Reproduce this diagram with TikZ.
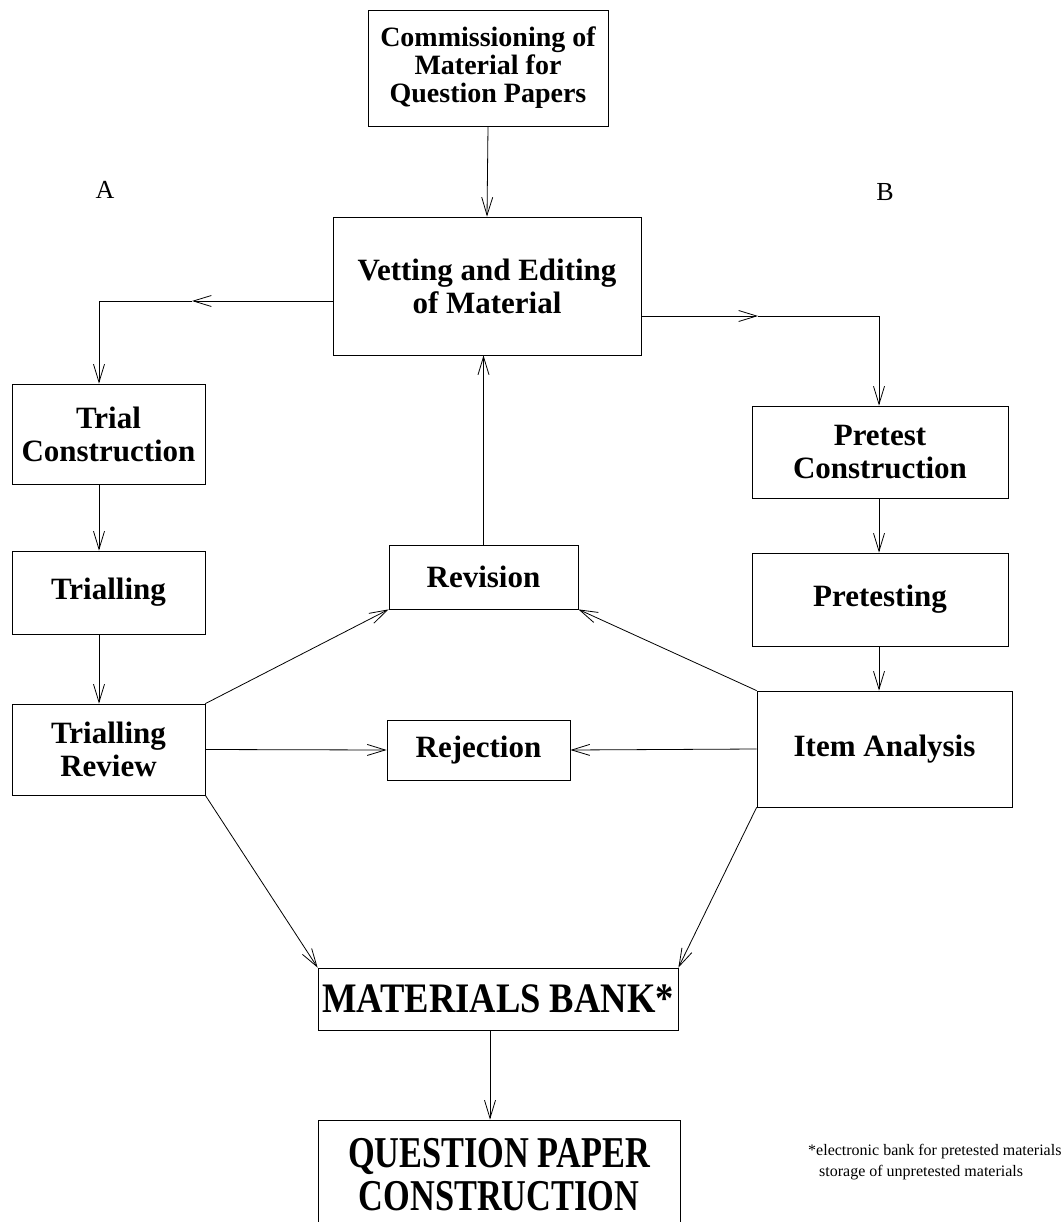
\documentclass[tikz,border=0pt]{standalone}
\usepackage{fontspec}
\setmainfont{Liberation Serif}
\newfontfamily\mbfont[FakeStretch=0.87]{Liberation Serif}
\newfontfamily\qpfont[FakeStretch=0.78]{Liberation Serif}
\usetikzlibrary{arrows.meta}
\begin{document}
\begin{tikzpicture}[x=1pt,y=-1pt,
  box/.style={draw, line width=0.8pt, inner sep=0pt, align=center,
    font=\fontsize{31}{33}\selectfont\bfseries},
  arr/.style={line width=0.8pt, -{Straight Barb[length=18pt,width=11pt,line width=0.8pt]}},
  lab/.style={font=\fontsize{26}{28}\selectfont},
  note/.style={font=\fontsize{16}{21}\selectfont, align=left, inner sep=0pt}]
\useasboundingbox (0,0) rectangle (1064,1222);

\node[box, minimum width=240, minimum height=116, font=\fontsize{28}{28}\selectfont\bfseries] (comm) at (488,68) {Commissioning of\\Material for\\Question Papers};
\node[box, minimum width=308, minimum height=138] (vet) at (487,286) {Vetting and Editing\\of Material};
\node[lab] (la) at (105,190) {A};
\node[lab] (lb) at (885,192) {B};

\node[box, minimum width=193, minimum height=100] (tc) at (108.5,434) {Trial\\Construction};
\node[box, minimum width=193, minimum height=83] (tr) at (108.5,592.5) {Trialling};
\node[box, minimum width=193, minimum height=91] (trr) at (108.5,749.5) {Trialling\\Review};

\node[box, minimum width=189, minimum height=64] (rev) at (483.5,577) {Revision};
\node[box, minimum width=183, minimum height=60] (rej) at (478.5,750) {Rejection};

\node[box, minimum width=256, minimum height=92] (pc) at (880,452) {Pretest\\Construction};
\node[box, minimum width=256, minimum height=93] (pt) at (880,599.5) {Pretesting};
\node[box, minimum width=255, minimum height=116] (ia) at (884.5,749) {Item Analysis};

\node[box, minimum width=360, minimum height=62, font=\fontsize{42}{42}\mbfont\bfseries] (mb) at (498,999) {MATERIALS BANK*};
\node[box, minimum width=362, minimum height=110, font=\fontsize{44}{43}\qpfont\bfseries] (qp) at (499,1175) {QUESTION PAPER\\CONSTRUCTION};

\node[note, anchor=north west] (fn) at (808,1144) {*electronic bank for pretested materials\\\hspace*{11pt}storage of unpretested materials};

% connectors
\draw[arr] (comm.south) -- (vet.north);

\coordinate (lm) at (192,301);
\coordinate (lc) at (99,301);
\draw[arr] (vet.west |- lm) -- (lm);
\draw[arr] (lm) -- (lc) -- (lc |- tc.north);

\coordinate (rm) at (758,316);
\coordinate (rc) at (879,316);
\draw[arr] (vet.east |- rm) -- (rm);
\draw[arr] (rm) -- (rc) -- (rc |- pc.north);

\draw[arr] (tc.south -| lc) -- (tr.north -| lc);
\draw[arr] (tr.south -| lc) -- (trr.north -| lc);

\draw[arr] (pc.south -| rc) -- (pt.north -| rc);
\draw[arr] (pt.south -| rc) -- (ia.north -| rc);

\draw[arr] (rev.north) -- (rev.north |- vet.south);
\draw[arr] (trr.north east) -- (rev.south west);
\draw[arr] (ia.north west) -- (rev.south east);
\draw[arr] (trr.east) -- (rej.west);
\draw[arr] (ia.west) -- (rej.east);
\draw[arr] (trr.south east) -- (mb.north west);
\draw[arr] (ia.south west) -- (mb.north east);

\coordinate (qx) at (490,0);
\draw[arr] (mb.south -| qx) -- (qp.north -| qx);
\end{tikzpicture}
\end{document}
